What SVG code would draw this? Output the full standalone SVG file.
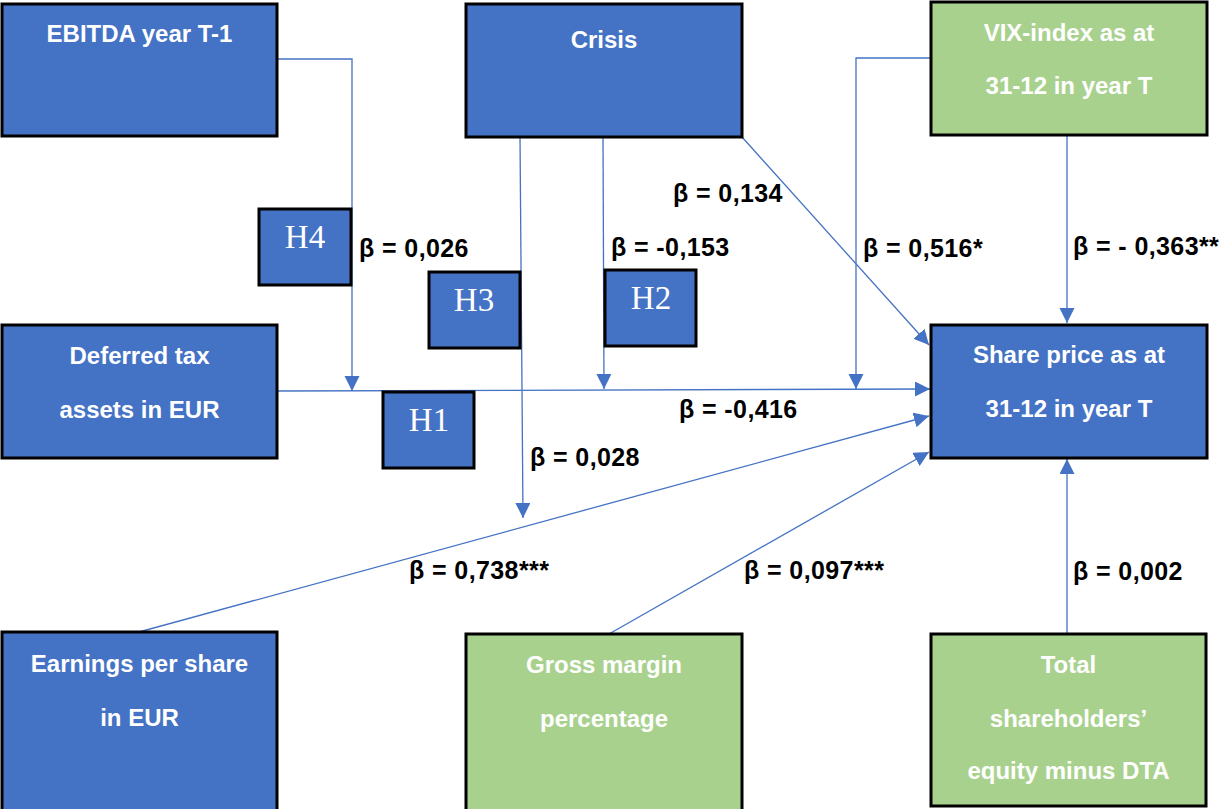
<svg xmlns="http://www.w3.org/2000/svg" width="1228" height="809" viewBox="0 0 1228 809">
<defs>
<style>
.blue{fill:#4472C4;stroke:#000;stroke-width:3}
.green{fill:#A9D18E;stroke:#000;stroke-width:3}
.t{font-family:"Liberation Sans",Arial,sans-serif;font-weight:bold;font-size:24px;fill:#fff;text-anchor:middle}
.h{font-family:"Liberation Serif","Times New Roman",serif;font-size:33px;fill:#fff;text-anchor:middle}
.lbl{font-family:"Liberation Sans",Arial,sans-serif;font-weight:bold;font-size:25px;letter-spacing:0.4px;fill:#000}
.c{fill:none;stroke:#4472C4;stroke-width:1.3}
</style>
<marker id="arr" markerUnits="userSpaceOnUse" markerWidth="16" markerHeight="16" refX="15" refY="7.5" orient="auto">
<path d="M0,0 L15,7.5 L0,15 z" fill="#4472C4"/>
</marker>
</defs>
<rect width="1228" height="809" fill="#fff"/>

<g id="connectors">
<polyline class="c" points="277,59 352,59 352,391" marker-end="url(#arr)"/>
<line class="c" x1="277" y1="391" x2="930" y2="389" marker-end="url(#arr)"/>
<line class="c" x1="520" y1="137" x2="523" y2="518" marker-end="url(#arr)"/>
<line class="c" x1="603" y1="137" x2="604" y2="389" marker-end="url(#arr)"/>
<line class="c" x1="742" y1="137" x2="929" y2="345" marker-end="url(#arr)"/>
<polyline class="c" points="931,58 856,58 856,389" marker-end="url(#arr)"/>
<line class="c" x1="1067" y1="135" x2="1067" y2="323" marker-end="url(#arr)"/>
<line class="c" x1="139" y1="632" x2="929" y2="416" marker-end="url(#arr)"/>
<line class="c" x1="609" y1="634" x2="929" y2="452" marker-end="url(#arr)"/>
<line class="c" x1="1067" y1="634" x2="1067" y2="459" marker-end="url(#arr)"/>
</g>

<g id="labels">
<text class="lbl" x="673" y="202">β = 0,134</text>
<text class="lbl" x="359" y="257">β = 0,026</text>
<text class="lbl" x="611" y="256">β = -0,153</text>
<text class="lbl" x="863" y="257">β = 0,516*</text>
<text class="lbl" x="1073" y="255">β = - 0,363**</text>
<text class="lbl" x="679" y="418">β = -0,416</text>
<text class="lbl" x="530" y="466">β = 0,028</text>
<text class="lbl" x="409" y="579">β = 0,738***</text>
<text class="lbl" x="744" y="579">β = 0,097***</text>
<text class="lbl" x="1073" y="580">β = 0,002</text>
</g>

<g id="ebitda">
<rect class="blue" x="2" y="4" width="275" height="132"/>
<text class="t" x="139.5" y="42">EBITDA year T-1</text>
</g>
<g id="crisis">
<rect class="blue" x="466" y="4" width="276" height="133"/>
<text class="t" x="604" y="48">Crisis</text>
</g>
<g id="vix">
<rect class="green" x="931" y="2" width="276" height="133"/>
<text class="t" x="1069" y="41">VIX-index as at</text>
<text class="t" x="1069" y="94">31-12 in year T</text>
</g>
<g id="h4">
<rect class="blue" x="259" y="209" width="92" height="76"/>
<text class="h" x="305" y="248">H4</text>
</g>
<g id="h3">
<rect class="blue" x="429" y="272" width="91" height="76"/>
<text class="h" x="474" y="311">H3</text>
</g>
<g id="h2">
<rect class="blue" x="605" y="270" width="91" height="76"/>
<text class="h" x="651" y="309">H2</text>
</g>
<g id="h1">
<rect class="blue" x="383" y="392" width="91" height="76"/>
<text class="h" x="429" y="431">H1</text>
</g>
<g id="deferred">
<rect class="blue" x="2" y="325" width="275" height="133"/>
<text class="t" x="139.5" y="364">Deferred tax</text>
<text class="t" x="139.5" y="418">assets in EUR</text>
</g>
<g id="shareprice">
<rect class="blue" x="931" y="325" width="276" height="133"/>
<text class="t" x="1069" y="363">Share price as at</text>
<text class="t" x="1069" y="417">31-12 in year T</text>
</g>
<g id="eps">
<rect class="blue" x="2" y="632" width="275" height="182"/>
<text class="t" x="139.5" y="672">Earnings per share</text>
<text class="t" x="139.5" y="726">in EUR</text>
</g>
<g id="grossmargin">
<rect class="green" x="466" y="634" width="276" height="180"/>
<text class="t" x="604" y="673">Gross margin</text>
<text class="t" x="604" y="727">percentage</text>
</g>
<g id="equity">
<rect class="green" x="931" y="634" width="275" height="172"/>
<text class="t" x="1068.5" y="673">Total</text>
<text class="t" x="1068.5" y="727">shareholders’</text>
<text class="t" x="1068.5" y="779">equity minus DTA</text>
</g>
</svg>
